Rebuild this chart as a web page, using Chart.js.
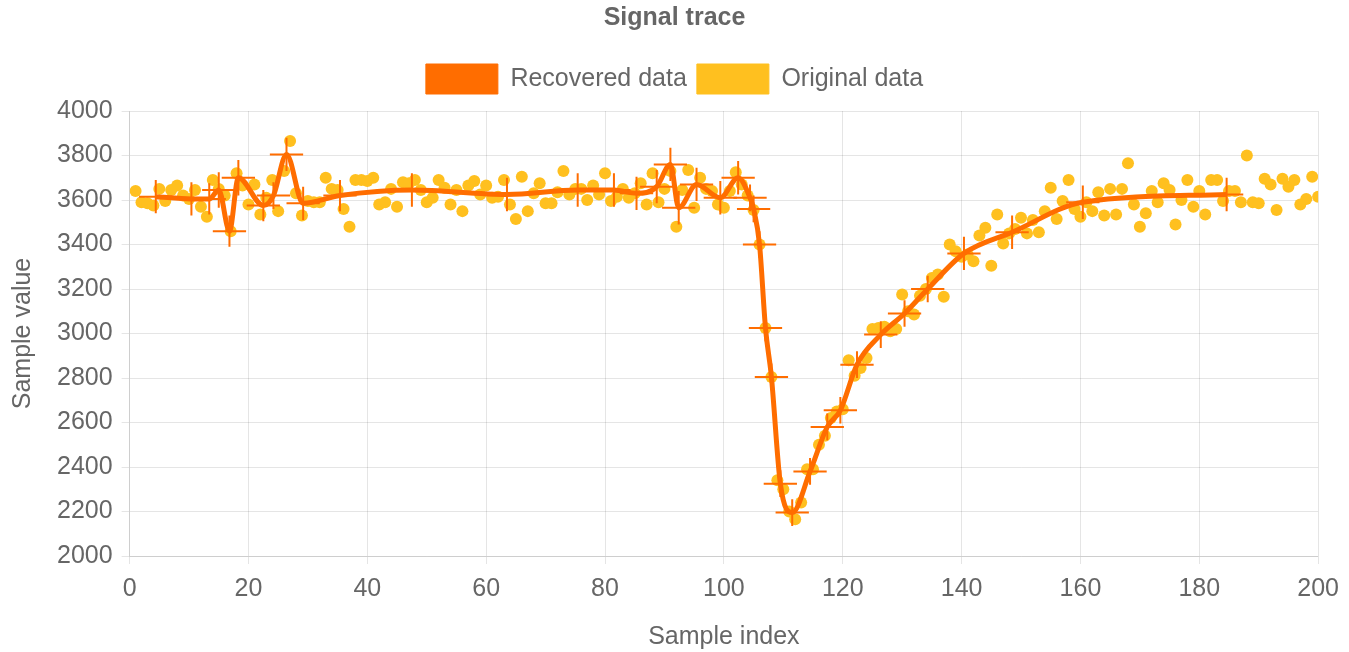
<!DOCTYPE html>
<html>
<head>
<meta charset="utf-8">
<script src="https://cdn.jsdelivr.net/npm/chart.js@4.4.0/dist/chart.umd.min.js"></script>
<style>
  html, body { margin: 0; padding: 0; background: #fff; }
  #wrap { width: 1349px; height: 652px; }
</style>
</head>
<body>
<div id="wrap"><canvas id="signalChart"></canvas></div>
<script>
// original samples, index 1..200
const sampleIndex = Array.from({ length: 200 }, (_, i) => i + 1);
const originalValues = [
    3640, 3590, 3585, 3575, 3650, 3595, 3645, 3665, 3620, 3605,
    3645, 3570, 3525, 3690, 3650, 3620, 3460, 3720, 3665, 3580,
    3670, 3535, 3610, 3690, 3550, 3730, 3865, 3630, 3530, 3595,
    3590, 3590, 3700, 3650, 3645, 3560, 3480, 3690, 3690, 3685,
    3700, 3580, 3590, 3650, 3570, 3680, 3675, 3690, 3645, 3590,
    3610, 3690, 3655, 3580, 3645, 3550, 3665, 3685, 3625, 3665,
    3610, 3615, 3690, 3580, 3515, 3705, 3550, 3630, 3675, 3585,
    3585, 3635, 3730, 3625, 3650, 3650, 3600, 3665, 3625, 3720,
    3595, 3615, 3650, 3610, 3630, 3675, 3580, 3720, 3590, 3650,
    3730, 3480, 3645, 3735, 3565, 3700, 3650, 3640, 3580, 3565,
    3640, 3725, 3670, 3620, 3555, 3400, 3025, 2805, 2340, 2300,
    2200, 2165, 2240, 2390, 2390, 2500, 2540, 2620, 2650, 2660,
    2880, 2810, 2845, 2890, 3020, 3025, 3030, 3010, 3020, 3175,
    3100, 3085, 3170, 3200, 3250, 3265, 3165, 3400, 3370, 3345,
    3355, 3325, 3440, 3475, 3305, 3535, 3405, 3450, 3470, 3520,
    3450, 3510, 3455, 3550, 3655, 3515, 3595, 3690, 3560, 3525,
    3590, 3550, 3635, 3530, 3650, 3535, 3650, 3765, 3580, 3480,
    3540, 3640, 3590, 3675, 3645, 3490, 3600, 3690, 3570, 3640,
    3535, 3690, 3690, 3595, 3640, 3640, 3590, 3800, 3590, 3585,
    3695, 3670, 3555, 3695, 3660, 3690, 3580, 3605, 3705, 3615
];

// recovered trace with error bars
const recoveredIndex = [
    4.4, 10.4, 13.4, 15, 16.8, 18.3, 22.5, 24.2, 26.4, 29.2,
    35.4, 47.5, 63.5, 75.4, 81.5, 85.3, 88.7, 91, 92.4, 95.4,
    99.4, 102.4, 104.4, 105, 106, 107, 108, 109.5, 111.5, 114.5,
    117.4, 119.6, 122.4, 126.4, 130.4, 134.3, 140.4, 148.5, 160.4, 184.6
];
const recoveredValues = [
    3615, 3605, 3605, 3645, 3460, 3700, 3575, 3620, 3805, 3585,
    3620, 3645, 3625, 3645, 3645, 3630, 3660, 3760, 3565, 3670,
    3610, 3700, 3610, 3560, 3400, 3025, 2805, 2325, 2195, 2380,
    2580, 2655, 2860, 2995, 3090, 3200, 3360, 3455, 3590, 3625
];
const indexError = [
    2.8, 2.8, 2.8, 2.8, 2.8, 2.8, 2.8, 2.8, 2.8, 2.8,
    2.8, 2.8, 2.8, 2.8, 2.8, 2.8, 2.8, 2.8, 2.8, 2.8,
    2.8, 2.8, 2.8, 2.8, 2.8, 2.8, 2.8, 2.8, 2.8, 2.8,
    2.8, 2.8, 2.8, 2.8, 2.8, 2.8, 2.8, 2.8, 2.8, 2.8
];
const valueError = [
    75, 75, 70, 80, 70, 80, 70, 60, 75, 75,
    70, 75, 75, 75, 75, 75, 75, 75, 75, 75,
    75, 75, 60, 60, 60, 60, 60, 60, 60, 60,
    60, 60, 60, 60, 60, 60, 75, 75, 75, 75
];

const xTicks = [0, 20, 40, 60, 80, 100, 120, 140, 160, 180, 200];
const yTicks = [2000, 2200, 2400, 2600, 2800, 3000, 3200, 3400, 3600, 3800, 4000];

const orange = '#ff6d00';
const amber = '#ffc01f';

Chart.defaults.font.family = '"Liberation Sans", Arial, sans-serif';
Chart.defaults.font.size = 25;
Chart.defaults.color = '#666';

const errorBars = {
    id: 'errorBars',
    afterDatasetsDraw(chart) {
        const { ctx, scales } = chart;
        const x = scales.x, y = scales.y;
        ctx.save();
        ctx.strokeStyle = orange;
        ctx.lineWidth = 2;
        recoveredIndex.forEach((v, i) => {
            const px = x.getPixelForValue(v);
            const py = y.getPixelForValue(recoveredValues[i]);
            const x0 = x.getPixelForValue(v - indexError[i]);
            const x1 = x.getPixelForValue(v + indexError[i]);
            const y0 = y.getPixelForValue(recoveredValues[i] - valueError[i]);
            const y1 = y.getPixelForValue(recoveredValues[i] + valueError[i]);
            ctx.beginPath();
            ctx.moveTo(x0, py); ctx.lineTo(x1, py);
            ctx.moveTo(px, y0); ctx.lineTo(px, y1);
            ctx.stroke();
        });
        ctx.restore();
    }
};

// a bit more room under the legend
const legendGap = {
    id: 'legendGap',
    beforeInit(chart) {
        const fit = chart.legend.fit;
        chart.legend.fit = function () {
            fit.bind(chart.legend)();
            this.height += 7;
        };
    }
};

const ctx = document.getElementById('signalChart').getContext('2d');

new Chart(ctx, {
    type: 'scatter',
    data: {
        datasets: [
            {
                type: 'line',
                label: 'Recovered data',
                data: recoveredIndex.map((v, i) => ({ x: v, y: recoveredValues[i] })),
                borderColor: orange,
                backgroundColor: orange,
                borderWidth: 5,
                pointRadius: 0,
                cubicInterpolationMode: 'monotone',
                fill: false
            },
            {
                label: 'Original data',
                data: sampleIndex.map((v, i) => ({ x: v, y: originalValues[i] })),
                borderColor: amber,
                backgroundColor: amber,
                pointRadius: 6,
                pointBorderWidth: 0
            }
        ]
    },
    options: {
        responsive: true,
        maintainAspectRatio: false,
        animation: false,
        plugins: {
            title: {
                display: true,
                text: 'Signal trace',
                font: { size: 25, weight: 'bold' },
                padding: { top: 3, bottom: 21 }
            },
            legend: {
                position: 'top',
                labels: {
                    boxWidth: 72,
                    boxHeight: 30,
                    padding: 10,
                    font: { size: 25 },
                    generateLabels: chart => {
                        const items = Chart.defaults.plugins.legend.labels.generateLabels(chart);
                        items.forEach(it => { it.lineWidth = 1; });
                        return items;
                    }
                }
            },
            tooltip: { enabled: false }
        },
        scales: {
            x: {
                type: 'linear',
                min: 0,
                max: 200,
                afterBuildTicks: axis => { axis.ticks = xTicks.map(v => ({ value: v })); },
                title: { display: true, text: 'Sample index', padding: { top: 8, bottom: 0 } },
                ticks: { padding: 10, callback: v => String(v) }
            },
            y: {
                min: 2000,
                max: 4000,
                afterBuildTicks: axis => { axis.ticks = yTicks.map(v => ({ value: v })); },
                title: { display: true, text: 'Sample value', padding: { top: 8, bottom: 10 } },
                ticks: { padding: 9, callback: v => String(v) }
            }
        }
    },
    plugins: [errorBars, legendGap]
});
</script>
</body>
</html>
